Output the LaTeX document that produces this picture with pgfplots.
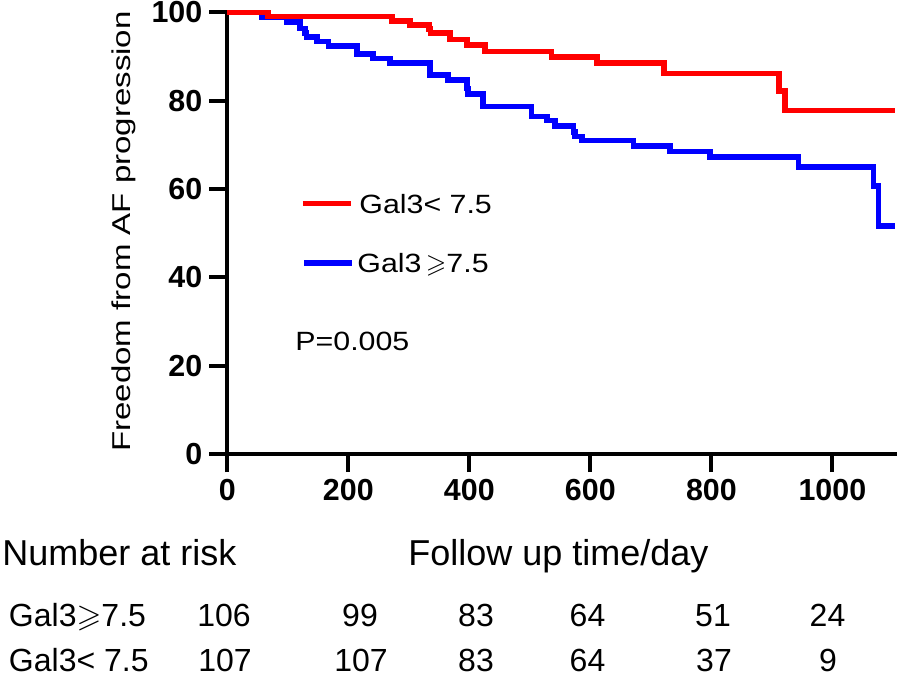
\documentclass[border=0pt]{standalone}
\usepackage{fontspec}
\setmainfont{Liberation Sans}
\usepackage{amssymb}
\usepackage{pgfplots}
\pgfplotsset{compat=1.18}
\newfontfamily\ylabfont{Liberation Sans}[FakeStretch=1.28]
\newfontfamily\legfont{Liberation Sans}[FakeStretch=1.15]
\definecolor{kmred}{RGB}{255,0,0}
\definecolor{kmblue}{RGB}{0,0,255}
\begin{document}
\begin{tikzpicture}[x=0.5pt,y=-0.5pt]
\useasboundingbox (0,0) rectangle (897,678);
\begin{axis}[
 at={(113.65pt,-227pt)}, anchor=south west,
 scale only axis, width=334.9pt, height=220.75pt,
 xmin=0, xmax=1107, ymin=0, ymax=100,
 axis x line*=bottom, axis y line*=left,
 axis line style={line width=2pt, black},
 x axis line style={shorten <=-9pt},
 y axis line style={shorten <=-9pt},
 xtick={0,200,400,600,800,1000}, ytick={0,20,40,60,80,100},
 tick align=outside, major tick length=9pt,
 tick style={line width=2pt, black},
 ticklabel style={font=\bfseries\fontsize{15.2}{18}\selectfont},
 /pgf/number format/assume math mode=true,
 /pgf/number format/1000 sep={},
 clip=false,
]
% Gal3 >= 7.5
\addplot[const plot, kmblue, line width=2.8pt] coordinates {
(0,100) (57,99.0) (98,97.9) (120,96.4) (128,95.3) (131,94.4) (148,93.4) (167,92.4)
(214,90.6) (241,89.6) (269,88.6) (335,85.8) (365,84.7) (396,82.8) (398,81.5)
(423,78.7) (503,76.4) (528,75.5) (542,74.3) (572,73.0) (575,71.9) (586,71.0)
(671,69.8) (732,68.5) (798,67.3) (944,65.0) (1068,60.7) (1076,51.7) (1103,51.7)};
% Gal3 < 7.5
\addplot[const plot, kmred, line width=2.8pt] coordinates {
(0,100) (67,99.1) (272,98.1) (302,97.2) (333,96.2) (336,95.3) (368,93.9) (396,92.7)
(426,91.2) (536,89.9) (611,88.5) (722,86.2) (912,82.2) (922,77.8) (1103,77.8)};
% legend samples
\addplot[kmred, line width=2.8pt, forget plot] coordinates {(125,56.7) (204,56.7)};
\addplot[kmblue, line width=2.8pt, forget plot] coordinates {(127,43.3) (206,43.3)};
\end{axis}
% y label
\node[rotate=90, anchor=base, inner sep=0pt, font=\ylabfont\fontsize{12.9}{15}\selectfont] at (130,231.5) {Freedom from AF progression};
% legend and p value texts
\node[anchor=base west, inner sep=0pt, font=\legfont\fontsize{13.2}{15}\selectfont] at (359,213.3) {Gal3< 7.5};
\node[anchor=base west, inner sep=0pt, font=\legfont\fontsize{13.2}{15}\selectfont] at (357,272.7) {Gal3\,$\geqslant$7.5};
\node[anchor=base west, inner sep=0pt, font=\legfont\fontsize{13.2}{15}\selectfont] at (295,350.7) {P=0.005};
% number at risk table
\node[anchor=base west, inner sep=0pt, font=\fontsize{18}{21}\selectfont] at (2,565.7) {Number at risk};
\node[anchor=base west, inner sep=0pt, font=\fontsize{18}{21}\selectfont] at (408,565.7) {Follow up time/day};
\begin{scope}[every node/.style={inner sep=0pt, font=\fontsize{16}{19}\selectfont}]
\node[anchor=base west] at (8.6,626.7) {Gal3$\geqslant$7.5};
\node[anchor=base west] at (8.6,671.7) {Gal3< 7.5};
\node[anchor=base] at (224,626.7) {106};
\node[anchor=base] at (360,626.7) {99};
\node[anchor=base] at (476,626.7) {83};
\node[anchor=base] at (587.5,626.7) {64};
\node[anchor=base] at (713,626.7) {51};
\node[anchor=base] at (827.5,626.7) {24};
\node[anchor=base] at (225,671.7) {107};
\node[anchor=base] at (361,671.7) {107};
\node[anchor=base] at (476,671.7) {83};
\node[anchor=base] at (587.5,671.7) {64};
\node[anchor=base] at (714,671.7) {37};
\node[anchor=base] at (828,671.7) {9};
\end{scope}
\end{tikzpicture}
\end{document}
